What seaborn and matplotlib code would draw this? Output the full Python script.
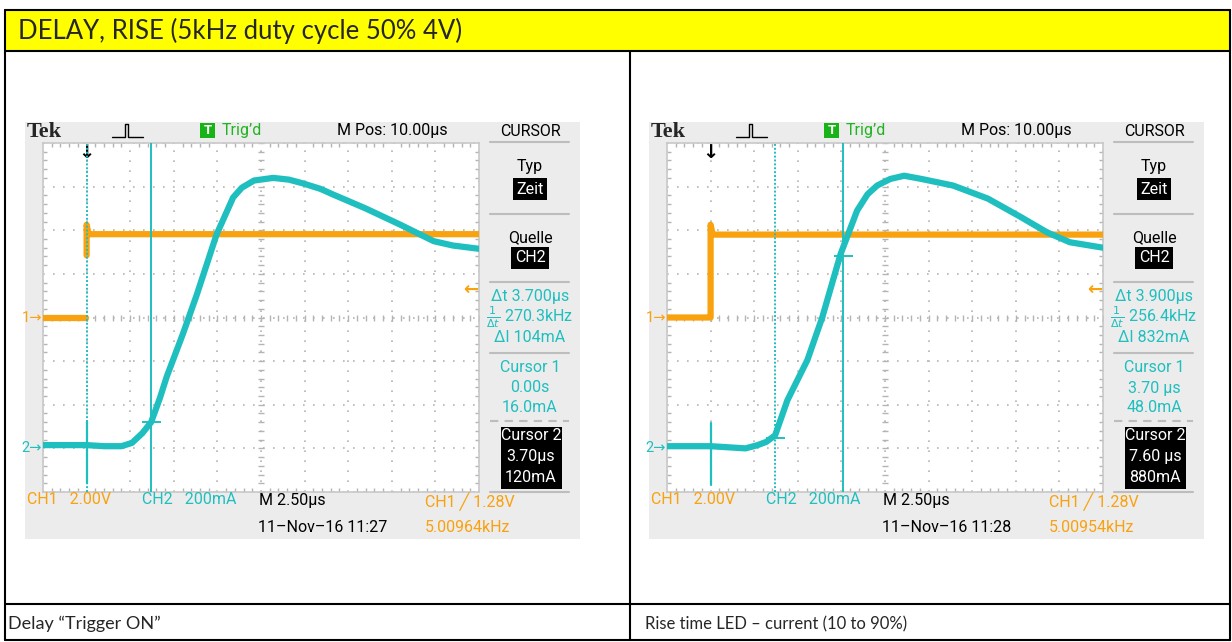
import matplotlib

matplotlib.use("Agg")
import matplotlib.pyplot as plt
import numpy as np
import seaborn as sns
from matplotlib.lines import Line2D
from matplotlib.patches import Rectangle
from matplotlib.transforms import blended_transform_factory

# ---------------------------------------------------------------- data
TITLE = "DELAY, RISE (5kHz duty cycle 50% 4V)"
CAPTIONS = ["Delay \u201cTrigger ON\u201d", "Rise time LED \u2013 current (10 to 90%)"]

# CH2: LED current (mA) against time after trigger (us)
left_t = [-2.5, -1.0, 0.0, 1.0, 2.0, 2.6, 3.2, 3.7, 4.2, 4.6,
          5.5, 6.3, 7.45, 8.4, 8.9, 9.6, 10.7, 11.6, 12.4, 13.4, 14.1, 16.0,
          18.0, 19.9, 21.0, 22.5]
left_i = [15, 15, 15, 10, 10, 25, 70, 120, 230, 330,
          520, 700, 980, 1150, 1195, 1228, 1240, 1232, 1215, 1190, 1165, 1100,
          1025, 950, 930, 915]
right_t = [-2.5, -1.0, 0.0, 1.0, 2.0, 2.7, 3.2, 3.7, 4.4,
           5.55, 6.4, 7.45, 8.4, 9.0, 9.55, 10.3, 11.1, 12.1, 13.9, 15.9,
           17.8, 19.3, 20.6, 22.5]
right_i = [10, 10, 10, 5, 0, 15, 30, 60, 220,
           405, 600, 890, 1090, 1165, 1205, 1235, 1250, 1235, 1205, 1145,
           1060, 990, 945, 920]
# switching spike on CH2 at the trigger instant (mA)
spike_t = [0.0, 0.0]
left_spike = [120, -160]
right_spike = [115, -170]

# CH1: trigger voltage (V); the left capture shows no rising edge segment
ch1_t = [-2.5, -0.03, 0.0, 0.0, 0.12, 22.5]
left_v = [0.0, 0.0, 2.85, 4.25, 3.82, 3.82]
left_v_units = [0, 0, 1, 1, 1, 1]
right_v = [0.0, 0.0, 0.0, 4.25, 3.80, 3.80]
right_v_units = [0, 0, 0, 0, 0, 0]
trig_level = 1.28

# cursor positions (us) and readings (mA)
left_cursor_t = [0.0, 3.7]
left_cursor_i = [16.0, 120.0]
right_cursor_t = [3.7, 7.6]
right_cursor_i = [48.0, 880.0]

left_readout = ["3.700\u00b5s", "270.3kHz", "104mA", "0.00s", "16.0mA", "3.70\u00b5s", "120mA"]
right_readout = ["3.900\u00b5s", "256.4kHz", "832mA", "3.70 \u00b5s", "48.0mA", "7.60 \u00b5s", "880mA"]
stamps = ["11\u2013Nov\u201316 11:27", "11\u2013Nov\u201316 11:28"]
freqs = ["5.00964kHz", "5.00954kHz"]

# ---------------------------------------------------------------- style
W, H = 1232, 642
CYAN = "#1fbfbf"
ORANGE = "#f9a20f"
GRID = "#b4b4b4"
PANEL = "#ececec"
SCOPE_FONT = ["Roboto", "DejaVu Sans"]
DOC_FONT = ["Lato", "DejaVu Sans"]
FS = 11.5

sns.set_style("white")
plt.rcParams["font.family"] = DOC_FONT

fig = plt.figure(figsize=(W / 100, H / 100), dpi=100)


def fx(x):
    return np.asarray(x) / W


def fy(y):
    return 1 - np.asarray(y) / H


def hline(x0, x1, y, **kw):
    fig.add_artist(Line2D([fx(x0), fx(x1)], [fy(y), fy(y)], transform=fig.transFigure, **kw))


def vline(x, y0, y1, **kw):
    fig.add_artist(Line2D([fx(x), fx(x)], [fy(y0), fy(y1)], transform=fig.transFigure, **kw))


def box(x0, y0, x1, y1, color, z=-1):
    fig.add_artist(Rectangle((fx(x0), fy(y1)), (x1 - x0) / W, (y1 - y0) / H,
                             transform=fig.transFigure, facecolor=color,
                             edgecolor="none", zorder=z))


def stext(x, y, s, color="black", size=FS, ha="center", **kw):
    fig.text(fx(x), fy(y), s, color=color, fontsize=size, ha=ha, va="center",
             family=SCOPE_FONT, **kw)


def draw_scope(off, t2, i2, spike, v1, v1_units, cur_t, cur_i, readout, stamp, freq):
    box(25 + off, 122, 580 + off, 539, PANEL)

    ax = fig.add_axes([fx(43 + off), fy(492), 436 / W, 349 / H])
    ax.set_facecolor("white")
    ax1 = ax.twinx()  # CH1 scale: 2 V/div, ground at centre
    ax1.set_ylim(-8, 8)

    # graticule: 10 x 8 divisions, 2.5 us/div and 200 mA/div
    ax.set_xticks(np.arange(-2.5, 22.6, 2.5))
    ax.set_yticks(np.arange(-200, 1401, 200))
    ax.set_xticks(np.arange(-2.5, 22.6, 0.5), minor=True)
    ax.set_yticks(np.arange(-200, 1401, 40), minor=True)
    ax.tick_params(which="both", labelbottom=False, labelleft=False,
                   bottom=True, top=True, left=True, right=True,
                   direction="in", color=GRID)
    ax.tick_params(which="major", length=0)
    ax.tick_params(which="minor", length=3, width=1)
    ax.grid(True, which="major", color=GRID, ls=(0, (1, 5)), lw=1.2)
    for sp in ax.spines.values():
        sp.set_color("#c8c8c8")
        sp.set_linewidth(1.2)
    ax.plot(np.arange(-2.5, 22.6, 0.5), np.full(51, 600.0), ls="none",
            marker="|", ms=4, color=GRID, zorder=1)
    ax.plot(np.full(41, 10.0), np.arange(-200, 1401, 40), ls="none",
            marker="_", ms=4, color=GRID, zorder=1)

    # traces: CH1 drawn in the same axes but through the CH1 scale
    sns.lineplot(x=ch1_t, y=v1, units=v1_units, ax=ax, color=ORANGE, lw=4.5,
                 sort=False, estimator=None, transform=ax1.transData, zorder=3)
    for k, (ct, ci) in enumerate(zip(cur_t, cur_i)):
        ax.axvline(ct, color=CYAN, lw=1.4, ls=(0, (1, 1)) if k == 0 else "-", zorder=3.5)
        ax.hlines(ci, ct - 0.55, ct + 0.55, color=CYAN, lw=1.4, zorder=5)
    sns.lineplot(x=t2, y=i2, ax=ax, color=CYAN, lw=4.5, sort=False,
                 estimator=None, zorder=4)
    sns.lineplot(x=spike_t, y=spike, ax=ax, color=CYAN, lw=1.6, sort=False,
                 estimator=None, zorder=4)

    ax1.set_yticks([])
    ax1.set_ylabel("")
    for sp in ax1.spines.values():
        sp.set_visible(False)
    ax.set_xlim(-2.5, 22.5)
    ax.set_ylim(-200, 1400)
    ax.set_xlabel("")
    ax.set_ylabel("")

    left_edge = blended_transform_factory(ax.transAxes, ax.transData)
    ax.text(-0.002, 0, "2\u2192", transform=left_edge, ha="right", va="center",
            color=CYAN, fontsize=10.5, family=SCOPE_FONT)
    ch1_edge = blended_transform_factory(ax.transAxes, ax1.transData)
    ax1.text(-0.002, 0, "1\u2192", transform=ch1_edge, ha="right", va="center",
             color=ORANGE, fontsize=10.5, family=SCOPE_FONT)
    ax1.text(0.998, trig_level, "\u2190", transform=ch1_edge, ha="right",
             va="center", color=ORANGE, fontsize=13, fontweight="bold",
             family=["DejaVu Sans"])
    top_edge = blended_transform_factory(ax.transData, ax.transAxes)
    ax.text(0.0, 1.0, "\u2193", transform=top_edge, ha="center", va="top",
            color="black", fontsize=14, fontweight="bold", family=["DejaVu Sans"])

    # header row
    fig.text(fx(27 + off), fy(132), "Tek", fontsize=16, fontweight="bold",
             family=["Liberation Serif"], va="center")
    px = np.array([112, 122, 122, 125, 125, 128, 128, 131, 131, 143]) + off
    py = np.array([137, 137, 137, 137, 124, 124, 137, 137, 137, 137])
    fig.add_artist(Line2D(fx(px), fy(py), transform=fig.transFigure,
                          color="black", lw=1.0))
    box(200 + off, 123, 215 + off, 138, "#17b317", z=2)
    stext(207.5 + off, 131, "T", color="white", size=9.5, fontweight="bold")
    stext(222 + off, 131, "Trig\u2019d", color="#22b322", ha="left")
    stext(392 + off, 131, "M Pos: 10.00\u00b5s")
    stext(530 + off, 131, "CURSOR")

    # side menu
    cx = 530 + off
    for y in (142, 214, 282, 353, 492):
        hline(490 + off, 569 + off, y, color="#bdbdbd", lw=1.5)
    hline(490 + off, 569 + off, 421, color="#bdbdbd", lw=1.5, ls=(0, (4, 3)))
    stext(cx, 167, "Typ")
    stext(cx, 189, "Zeit", color="white",
          bbox=dict(boxstyle="square,pad=0.2", fc="black", ec="none"))
    stext(cx, 238, "Quelle")
    stext(cx, 258, "CH2", color="white",
          bbox=dict(boxstyle="square,pad=0.2", fc="black", ec="none"))
    stext(cx, 296, "\u0394t " + readout[0], color=CYAN)
    stext(cx, 317, r"$\frac{1}{\Delta t}$ " + readout[1], color=CYAN)
    stext(cx, 338, "\u0394I " + readout[2], color=CYAN)
    stext(cx, 367, "Cursor 1", color=CYAN)
    stext(cx, 388, readout[3], color=CYAN)
    stext(cx, 408, readout[4], color=CYAN)
    box(501 + off, 427, 562 + off, 489, "black", z=2)
    stext(cx + 1, 436, "Cursor 2", color="white")
    stext(cx + 1, 457, readout[5], color="white")
    stext(cx + 1, 478, readout[6], color="white")

    # bottom status lines
    stext(27 + off, 500, "CH1   2.00V", color=ORANGE, ha="left")
    stext(142 + off, 500, "CH2   200mA", color=CYAN, ha="left")
    stext(259 + off, 500, "M 2.50\u00b5s", ha="left")
    stext(425 + off, 502, "CH1 \u2571 1.28V", color=ORANGE, ha="left")
    stext(258 + off, 527, stamp, ha="left")
    stext(425 + off, 527, freq, color=ORANGE, ha="left")


draw_scope(0, left_t, left_i, left_spike, left_v, left_v_units, left_cursor_t,
           left_cursor_i, left_readout, stamps[0], freqs[0])
draw_scope(624, right_t, right_i, right_spike, right_v, right_v_units,
           right_cursor_t, right_cursor_i, right_readout, stamps[1], freqs[1])

# document table around the two captures
box(5, 10, 1230, 51, "#ffff00")
for y in (10, 51, 604, 640):
    hline(5, 1230, y, color="black", lw=1.5)
vline(5, 10, 640, color="black", lw=1.5)
vline(1230, 10, 640, color="black", lw=1.5)
vline(630, 51, 640, color="black", lw=1.5)
fig.text(fx(18), fy(31), TITLE, fontsize=18.5, va="center")
fig.text(fx(8), fy(624), CAPTIONS[0], fontsize=13, va="center")
fig.text(fx(645), fy(624), CAPTIONS[1], fontsize=12, va="center")

fig.savefig("out.png", dpi=100)
